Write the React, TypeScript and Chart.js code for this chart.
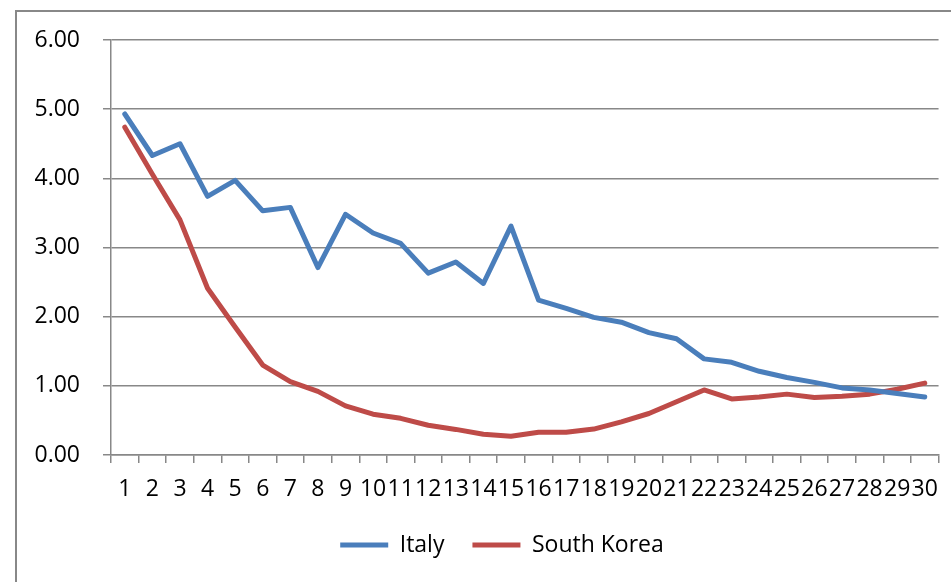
import React, { useEffect, useRef } from "react";
import { Chart, registerables } from "chart.js";

Chart.register(...registerables);

const categories = Array.from({ length: 30 }, (_, i) => String(i + 1));
const italy = [4.93, 4.33, 4.5, 3.74, 3.97, 3.53, 3.58, 2.71, 3.48, 3.21, 3.06, 2.63, 2.79, 2.48, 3.31, 2.24, 2.12, 1.99, 1.92, 1.77, 1.68, 1.39, 1.34, 1.21, 1.12, 1.05, 0.97, 0.94, 0.89, 0.84];
const southKorea = [4.74, 4.06, 3.4, 2.41, 1.85, 1.3, 1.06, 0.92, 0.71, 0.59, 0.53, 0.43, 0.37, 0.3, 0.27, 0.33, 0.33, 0.375, 0.48, 0.6, 0.77, 0.94, 0.81, 0.84, 0.88, 0.83, 0.85, 0.88, 0.95, 1.04];
const seriesNames = ["Italy", "South Korea"];
const yMin = 0;
const yMax = 6;
const yStep = 1;

const FONT = "'Open Sans', sans-serif";

const framePlugin = {
  id: "frame",
  beforeDraw(chart: any) {
    const ctx = chart.ctx;
    ctx.save();
    ctx.fillStyle = "#ffffff";
    ctx.fillRect(0, 0, chart.width, chart.height);
    ctx.strokeStyle = "#888888";
    ctx.lineWidth = 2;
    ctx.strokeRect(16, 11, 1200, 1200);
    ctx.restore();
  },
};

// Excel centres the legend on the full chart frame, which extends past the visible crop.
const legendShiftPlugin = {
  id: "legendShift",
  afterLayout(chart: any) {
    const lg = chart.legend;
    if (lg) {
      lg.left = 58;
    }
  },
};

export default function App() {
  const ref = useRef<HTMLCanvasElement>(null);
  useEffect(() => {
    if (!ref.current) return;
    const chart = new Chart(ref.current, {
      type: "line",
      data: {
        labels: categories,
        datasets: [
          {
            label: seriesNames[0],
            data: italy,
            borderColor: "#4A7EBB",
            backgroundColor: "#4A7EBB",
            borderWidth: 5,
            pointRadius: 0,
            borderCapStyle: "round",
            borderJoinStyle: "round",
            tension: 0,
          },
          {
            label: seriesNames[1],
            data: southKorea,
            borderColor: "#BE4B48",
            backgroundColor: "#BE4B48",
            borderWidth: 5,
            pointRadius: 0,
            borderCapStyle: "round",
            borderJoinStyle: "round",
            tension: 0,
          },
        ],
      },
      options: {
        responsive: false,
        animation: false,
        devicePixelRatio: 1,
        layout: { padding: { left: 0, right: 5, top: 40, bottom: 15.5 } },
        plugins: {
          tooltip: { enabled: false },
          legend: {
            position: "bottom",
            labels: {
              usePointStyle: true,
              pointStyle: "line",
              pointStyleWidth: 48,
              padding: 28,
              color: "#000000",
              font: { family: FONT, size: 23 },
            },
          },
        },
        scales: {
          x: {
            offset: true,
            grid: {
              offset: true,
              drawOnChartArea: false,
              drawTicks: true,
              tickLength: 8,
              color: "#888888",
              lineWidth: 1.5,
            },
            border: { display: true, color: "#888888", width: 1.5 },
            ticks: {
              autoSkip: false,
              maxRotation: 0,
              minRotation: 0,
              padding: 13,
              color: "#000000",
              font: { family: FONT, size: 23 },
            },
            afterFit(scale: any) {
              scale.height = 50.5;
            },
          },
          y: {
            min: yMin,
            max: yMax,
            grid: {
              color: "#888888",
              lineWidth: 1.5,
              drawTicks: true,
              tickLength: 8,
            },
            border: { display: true, color: "#888888", width: 1.5 },
            ticks: {
              stepSize: yStep,
              padding: 23,
              color: "#000000",
              font: { family: FONT, size: 23 },
              callback: (v: any) => Number(v).toFixed(2),
            },
            afterFit(scale: any) {
              scale.width = 111;
            },
          },
        },
      },
      plugins: [framePlugin, legendShiftPlugin],
    });
    return () => chart.destroy();
  }, []);
  return (
    <div style={{ position: "fixed", left: 0, top: 0, width: 951, height: 582, background: "#fff" }}>
      <canvas ref={ref} width={951} height={582} style={{ width: 951, height: 582, display: "block" }} />
    </div>
  );
}
